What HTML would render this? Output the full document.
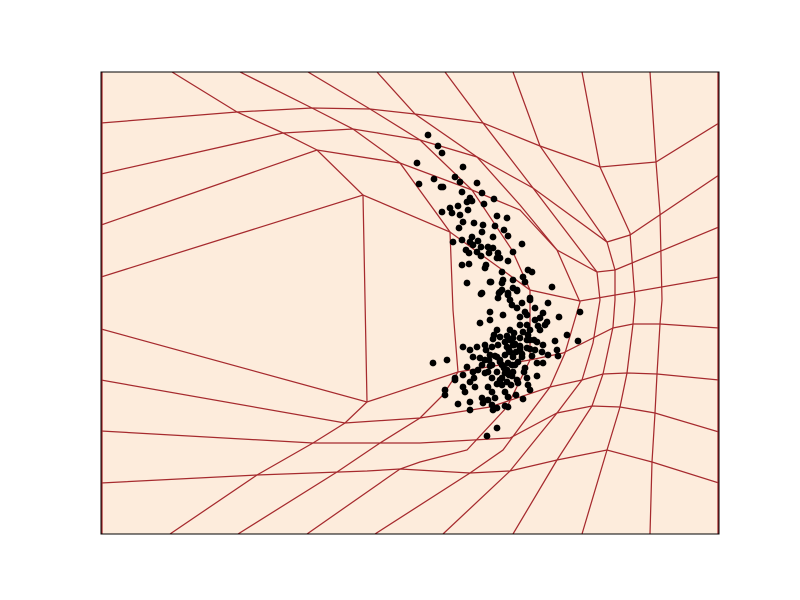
<!DOCTYPE html>
<html><head><meta charset="utf-8"><style>
html,body{margin:0;padding:0;background:#fff;}
svg{display:block;}
</style></head><body>
<svg id="chart" width="800" height="600" viewBox="0 0 800 600" xmlns="http://www.w3.org/2000/svg">
<defs><clipPath id="clip"><rect x="101" y="72" width="618" height="462"/></clipPath></defs>
<rect x="101" y="72" width="618" height="462" fill="#fdecdc"/>
<g id="grid" clip-path="url(#clip)"></g>
<g id="pts"></g>
<rect x="101" y="72" width="618" height="462" fill="none" stroke="#000" stroke-width="1"/>
</svg>
<script>
// data domain matches the plotted extent
const xDomain = [101, 719];
const yDomain = [72, 534];
const gridRows = [
 [[101,123],[237,112],[312,108],[370,109],[415,114],[483,123],[540,146],[600,167],[656,162],[719,123]],
 [[101,174],[283,133],[353,129],[420,140],[477,157],[533,188],[607,242],[630,235],[719,175]],
 [[101,225],[317,150],[400,163],[472,190],[520,210],[557,250],[597,272],[615,270],[719,227]],
 [[101,277],[363,195],[450,232],[530,290],[580,301],[633,292],[719,277]],
 [[101,329],[367,402],[458,372],[530,360],[563,353],[613,328],[633,324],[660,324],[719,328]],
 [[101,380],[345,423],[420,418],[490,407],[550,387],[582,380],[603,374],[627,373],[657,374],[719,380]],
 [[101,431],[313,443],[380,443],[420,443],[510,438],[557,413],[592,406],[620,407],[655,413],[719,432]],
 [[101,483],[257,475],[367,471],[400,469],[470,473],[510,471],[557,460],[607,450],[652,462],[719,483]]
];
const gridCols = [
 [[102,72],[102,534]],
 [[172,72],[237,112],[283,133],[317,150],[363,195],[367,402],[345,423],[313,443],[257,475],[170,534]],
 [[240,72],[312,108],[353,129],[400,163],[450,232],[453,310],[458,372],[443,395],[420,418],[380,443],[337,472],[238,534]],
 [[308,72],[370,109],[420,140],[472,190],[512,250],[530,290],[530,360],[507,407],[467,450],[420,462],[400,469],[307,534]],
 [[377,72],[415,114],[477,157],[520,205],[557,250],[580,302],[565,353],[550,387],[520,427],[503,450],[470,473],[375,534]],
 [[445,72],[483,123],[533,188],[597,272],[600,300],[593,343],[582,380],[557,413],[510,471],[443,534]],
 [[513,72],[540,146],[607,242],[615,270],[615,300],[613,327],[603,374],[592,406],[557,460],[513,534]],
 [[582,72],[600,167],[630,233],[635,300],[633,324],[627,373],[620,407],[607,450],[582,534]],
 [[650,72],[656,162],[660,213],[662,300],[660,324],[657,374],[655,413],[652,462],[650,534]],
 [[718,72],[718,534]]
];
const ptsX = [428,438,442,417,463,419,434,441,443,455,460,477,462,482,470,467,472,494,484,450,458,468,452,442,460,463,474,497,507,483,495,459,482,504,472,493,508,453,462,470,478,473,466,481,488,493,522,469,477,489,498,513,481,497,500,462,469,486,508,485,502,528,532,523,490,503,513,467,502,513,499,481,508,517,525,530,
 491,502,482,500,508,517,552,498,510,522,530,548,535,490,543,580,559,490,480,520,527,540,547,520,527,538,545,510,523,530,567,578,555,497,493,500,507,513,520,527,537,543,463,470,477,485,492,498,507,513,520,527,535,542,548,557,558,433,447,473,480,490,497,505,513,522,482,492,502,508,515,537,543,467,473,463,485,497,505,513,527,537,455,470,492,500,507,518,528,445,463,475,488,502,445,492,505,530,482,495,508,470,458,483,492,505,523,497,493,508,487,497,
 486,494,510,516,500,512,489,504,478,514,520,530,509,540,535,525,517,503,512,474,488,455,465,488,516,470,
 505,510,515,518,522,525,500,495,507,512,517,528,532,502,497,509,514,520,524,490,485,530,534,511];
const ptsY = [135,146,153,163,167,184,179,187,187,177,182,183,192,193,198,202,201,199,204,208,206,210,213,212,215,222,223,216,218,225,226,228,232,230,237,237,236,242,240,242,241,245,250,247,247,248,244,253,252,253,253,252,256,258,258,265,264,265,261,268,272,270,272,277,282,280,280,283,290,288,293,294,295,291,282,298,
 282,283,293,292,293,290,287,298,300,303,300,303,308,312,313,312,317,320,323,317,315,318,322,325,325,326,325,330,332,330,335,341,341,330,339,337,336,338,338,340,342,345,347,350,347,345,347,345,347,345,347,348,350,352,355,350,356,363,360,357,358,355,357,355,357,357,365,365,365,363,365,363,363,367,372,375,373,372,373,372,378,376,380,382,378,380,382,383,385,390,387,387,387,385,395,392,392,390,398,398,397,402,404,403,405,406,399,408,410,407,436,428,
 350,335,340,352,360,365,360,368,370,345,350,340,375,330,320,312,308,315,305,378,372,378,392,400,395,410,
 342,352,344,362,354,368,362,356,370,376,380,335,356,378,384,350,333,346,372,366,360,349,340,385];
function xs(v){ return 101 + (v - xDomain[0]) / (xDomain[1] - xDomain[0]) * 618; }
function ys(v){ return 72 + (v - yDomain[0]) / (yDomain[1] - yDomain[0]) * 462; }
const NS = 'http://www.w3.org/2000/svg';
const grid = document.getElementById('grid');
function drawLine(pts, name){
  const p = document.createElementNS(NS, 'polyline');
  p.setAttribute('points', pts.map(q => xs(q[0]).toFixed(1) + ',' + ys(q[1]).toFixed(1)).join(' '));
  p.setAttribute('fill', 'none');
  p.setAttribute('stroke', '#a62a2e');
  p.setAttribute('stroke-width', '1.25');
  
  
  grid.appendChild(p);
}
gridRows.forEach((r, i) => drawLine(r, 'grid-row-' + i));
gridCols.forEach((c, i) => drawLine(c, 'grid-col-' + i));
const pg = document.getElementById('pts');
for (let i = 0; i < ptsX.length && i < ptsY.length; i++) {
  const c = document.createElementNS(NS, 'circle');
  c.setAttribute('cx', xs(ptsX[i]).toFixed(1));
  c.setAttribute('cy', ys(ptsY[i]).toFixed(1));
  c.setAttribute('r', '3.4');
  c.setAttribute('fill', '#000');
  
  
  pg.appendChild(c);
}
</script>
</body></html>
